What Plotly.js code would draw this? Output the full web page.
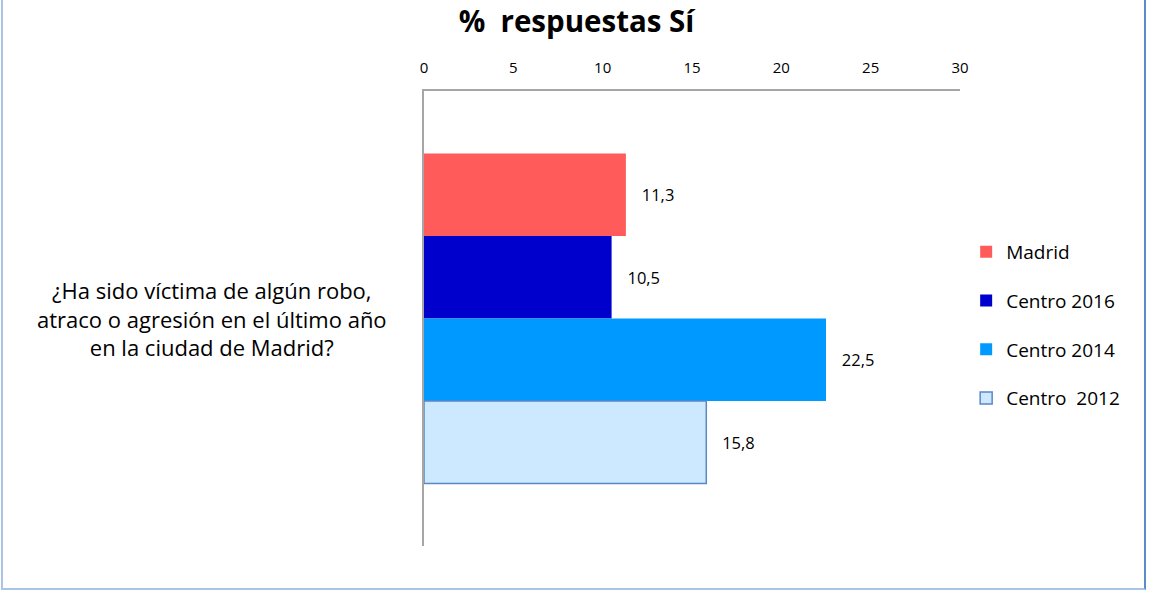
<!DOCTYPE html>
<html>
<head>
<meta charset="utf-8">
<script src="https://cdn.plot.ly/plotly-3.0.1.min.js"></script>
<style>
html,body{margin:0;padding:0;background:#fff;}
#wrap{position:relative;width:1153px;height:591px;overflow:hidden;}
#chart{width:1153px;height:591px;}
#frame{position:absolute;left:1px;top:-4px;width:1141px;height:592px;border-left:2px solid #A9C4E6;border-right:2px solid #5B8BCB;border-bottom:2px solid #A9C4E6;pointer-events:none;}
</style>
</head>
<body>
<div id="wrap"><div id="chart"></div><div id="frame"></div></div>
<script>
const categories = ["¿Ha sido víctima de algún robo,<br>atraco o agresión en el último año<br>en la ciudad de Madrid?"];
const seriesNames = ["Madrid", "Centro 2016", "Centro 2014", "Centro  2012"];
const madrid = [11.3];
const centro2016 = [10.5];
const centro2014 = [22.5];
const centro2012 = [15.8];
const xTicks = [0, 5, 10, 15, 20, 25, 30];

const seriesValues = [madrid, centro2016, centro2014, centro2012];
const colors = ["#FF5B5B", "#0000CC", "#0099FF", "#CCE9FF"];
const lineColors = ["#FF5B5B", "#0000CC", "#0099FF", "#5B87C5"];
const lineWidths = [0, 0, 0, 1.5];
const font = "'Open Sans', sans-serif";

const traces = seriesNames.map((name, i) => ({
  type: 'bar',
  orientation: 'h',
  name: name,
  legendgroup: 'g' + i,
  x: seriesValues[i],
  y: categories,
  marker: {color: colors[i], line: {color: lineColors[i], width: lineWidths[i]}},
  texttemplate: '\u00a0\u00a0\u00a0%{x:.1f}',
  textposition: 'outside',
  textfont: {family: font, size: 16.5, color: '#000'},
  cliponaxis: false,
  hoverinfo: 'x+name'
}));

const layout = {
  width: 1153, height: 591,
  margin: {l: 424, r: 193, t: 91, b: 45},
  paper_bgcolor: '#fff', plot_bgcolor: '#fff',
  separators: ',.',
  font: {family: font, color: '#000'},
  title: {text: '<b>%  respuestas Sí</b>', x: 0.5, xref: 'container', xanchor: 'center', y: 0.963, yanchor: 'middle',
          font: {family: font, size: 29.5, color: '#000'}},
  barmode: 'group',
  bargap: 0.275,
  bargroupgap: 0,
  xaxis: {side: 'top', range: [0, 30], tickvals: xTicks, ticktext: xTicks.map(String),
          showgrid: false, zeroline: false, showline: true, linecolor: '#A6A6A6', linewidth: 1.5,
          ticks: '', ticklabelstandoff: 10, tickfont: {family: font, size: 15, color: '#000'}, fixedrange: true},
  yaxis: {type: 'category', autorange: 'reversed', showticklabels: false, showgrid: false, zeroline: false,
          showline: true, linecolor: '#A6A6A6', linewidth: 1.5, ticks: '', fixedrange: true},
  legend: {x: 1.0115, xanchor: 'left', y: 0.688, yanchor: 'top', traceorder: 'grouped', tracegroupgap: 21,
           font: {family: font, size: 19, color: '#000'}, bgcolor: 'rgba(0,0,0,0)', itemclick: false},
  annotations: [{
    xref: 'paper', yref: 'paper', x: -0.3955, y: 0.5, xanchor: 'center', yanchor: 'middle',
    text: categories[0], showarrow: false, align: 'center',
    font: {family: font, size: 22, color: '#000'}
  }]
};

Plotly.newPlot('chart', traces, layout, {displayModeBar: false, staticPlot: false});
</script>
</body>
</html>
